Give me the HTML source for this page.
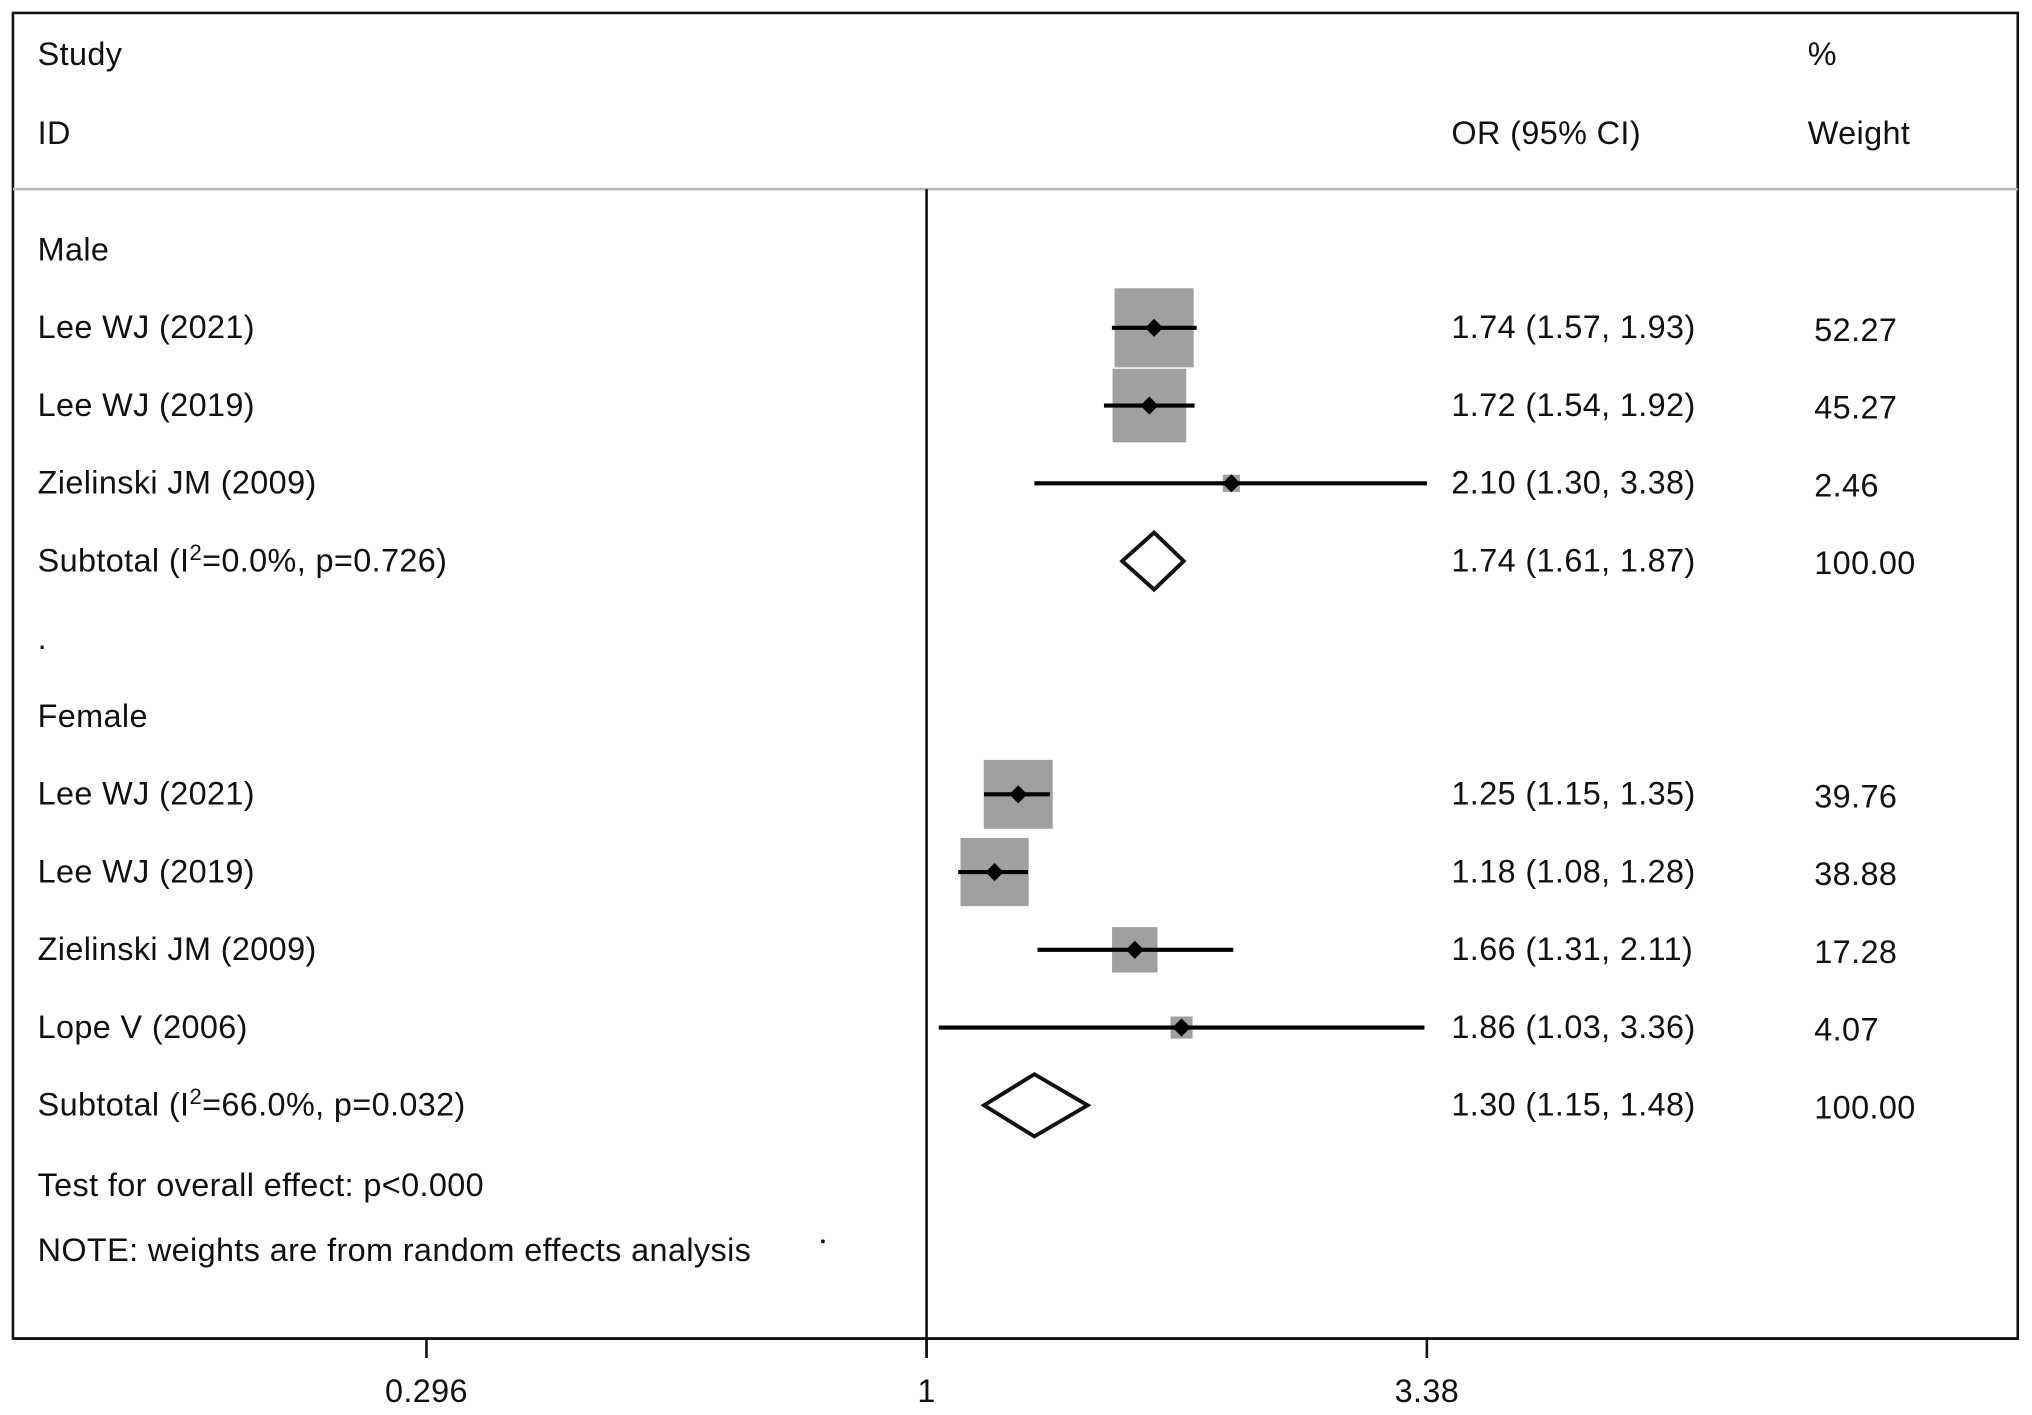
<!DOCTYPE html>
<html><head><meta charset="utf-8"><style>
html,body{margin:0;padding:0;background:#fff}
svg{display:block}
text{font-family:"Liberation Sans",sans-serif;font-size:25px;letter-spacing:0.3px;fill:#111}
</style></head><body>
<svg id="chart" width="2032" height="1415" viewBox="0 0 1568 1092" preserveAspectRatio="none" xmlns="http://www.w3.org/2000/svg">
<rect x="10" y="10" width="1547" height="1023" fill="none" stroke="#111" stroke-width="2"/>
<line x1="10" y1="146" x2="1557" y2="146" stroke="#bbb" stroke-width="2"/>
<text x="29" y="50">Study</text>
<text x="29" y="111">ID</text>
<text x="1120" y="111">OR (95% CI)</text>
<text x="1395" y="50">%</text>
<text x="1395" y="111">Weight</text>
<g id="marks"></g>
<g id="labels"></g>
<g id="axis"></g>
</svg>
<script>
const labels = ["Male","Lee WJ (2021)","Lee WJ (2019)","Zielinski JM (2009)","SUB1",".","Female","Lee WJ (2021)","Lee WJ (2019)","Zielinski JM (2009)","Lope V (2006)","SUB2"];
const rowTypes = ["head","study","study","study","sub","blank","head","study","study","study","study","sub"];
const orValues = [null,1.74,1.72,2.10,1.74,null,null,1.25,1.18,1.66,1.86,1.30];
const lowerCI = [null,1.57,1.54,1.30,1.61,null,null,1.15,1.08,1.31,1.03,1.15];
const upperCI = [null,1.93,1.92,3.38,1.87,null,null,1.35,1.28,2.11,3.36,1.48];
const weights = [null,52.27,45.27,2.46,100.00,null,null,39.76,38.88,17.28,4.07,100.00];
const subtotalStats = {4:["0.0%","0.726"],11:["66.0%","0.032"]};
const tickValues = [0.296,1,3.38];
const tickLabels = ["0.296","1","3.38"];

const NS="http://www.w3.org/2000/svg";
function x(v){return 715+317*Math.log(v);}
function rowY(i){return 193+i*60;}
function mk(tag,attrs,parent){const e=document.createElementNS(NS,tag);for(const k in attrs)e.setAttribute(k,attrs[k]);parent.appendChild(e);return e;}
const marks=document.getElementById('marks'), lab=document.getElementById('labels'), ax=document.getElementById('axis');

const nl=mk('line',{x1:x(1),y1:146,x2:x(1),y2:1048,stroke:'#111','stroke-width':2},ax);


mk('line',{x1:10,y1:1033,x2:1557,y2:1033,stroke:'#111','stroke-width':2},ax);
tickValues.forEach((t,i)=>{
  const tk=mk('line',{x1:x(t),y1:1033,x2:x(t),y2:1048,stroke:'#111','stroke-width':2},ax);
  
  
  const tl=mk('text',{x:x(t),y:1082,'text-anchor':'middle'},ax);
  tl.textContent=tickLabels[i];
  
  
});

labels.forEach((l,i)=>{
  const y=rowY(i);
  const t=rowTypes[i];
  const tx=mk('text',{x:29,y:y+8},lab);
  
  
  if(t==='sub'){
    const s=subtotalStats[i];
    tx.innerHTML='Subtotal (I<tspan dy="-9" font-size="17">2</tspan><tspan dy="9">='+s[0]+', p='+s[1]+')</tspan>';
  } else tx.textContent=l;
  if(t==='study'||t==='sub'){
    const o=mk('text',{x:1120,y:y+8},lab);
    o.textContent=orValues[i].toFixed(2)+' ('+lowerCI[i].toFixed(2)+', '+upperCI[i].toFixed(2)+')';
    
    
    const w=mk('text',{x:1400,y:y+10},lab);
    w.textContent=weights[i].toFixed(2);
    
    
  }
  if(t==='study'){
    const s=8.44*Math.sqrt(weights[i]);
    const b=mk('rect',{x:x(orValues[i])-s/2,y:y-s/2,width:s,height:s,fill:'#a0a0a0'},marks);
    
    
    const c=mk('line',{x1:x(lowerCI[i]),y1:y,x2:x(upperCI[i]),y2:y,stroke:'#000','stroke-width':3.2},marks);
    
    
    const px=x(orValues[i]);
    const p=mk('polygon',{points:`${px},${y-7} ${px+7},${y} ${px},${y+7} ${px-7},${y}`,fill:'#000'},marks);
    
    
  }
  if(t==='sub'){
    const h=i===4?22:24;
    const px=x(orValues[i]);
    const d=mk('polygon',{points:`${x(lowerCI[i])},${y} ${px},${y-h} ${x(upperCI[i])},${y} ${px},${y+h}`,fill:'none',stroke:'#111','stroke-width':3},marks);
    
    
  }
});
const t1=mk('text',{x:29,y:923},lab);
t1.textContent='Test for overall effect: p<0.000';


const t2=mk('text',{x:29,y:973},lab);
t2.textContent='NOTE: weights are from random effects analysis';


const dot=mk('circle',{cx:635,cy:958,r:1.5,fill:'#111'},lab);


</script>
</body></html>
